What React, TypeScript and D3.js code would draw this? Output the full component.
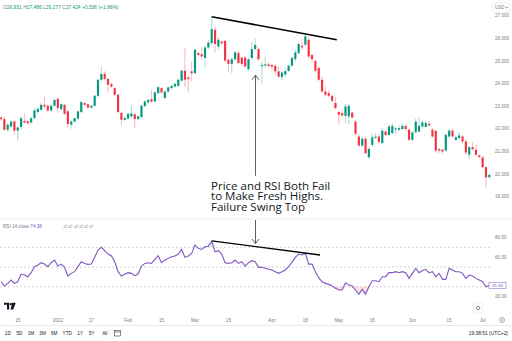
import React from "react";
import * as d3 from "d3";

const opens = [
  22.50,22.43,21.96,22.10,22.32,21.92,22.08,22.35,22.33,22.28,
  22.47,22.74,22.84,23.06,23.02,22.81,23.02,23.33,22.87,23.06,
  22.77,22.18,22.32,22.45,22.74,23.14,23.09,22.94,23.02,23.46,
  24.17,24.43,24.21,23.98,23.80,23.51,22.70,22.40,22.45,22.55,
  22.64,22.43,22.52,23.00,23.17,23.31,23.21,23.58,23.80,23.36,
  23.65,23.80,23.87,23.90,24.13,24.57,24.27,24.54,24.46,25.35,
  25.30,25.13,25.60,25.79,26.38,25.64,25.86,25.89,25.05,24.87,
  25.08,25.35,25.15,25.15,24.64,25.13,25.53,25.53,24.77,24.80,
  24.85,24.82,24.79,24.54,24.29,24.40,24.56,24.79,25.08,25.35,
  25.67,25.72,25.94,25.27,25.00,24.69,24.17,23.65,23.58,23.46,
  23.14,22.74,22.69,22.57,22.55,22.72,22.32,21.66,21.26,21.56,
  20.74,21.29,21.60,21.66,21.37,21.88,21.73,21.81,21.97,21.96,
  21.99,22.13,21.96,21.51,21.85,21.88,22.10,22.08,22.22,21.96,
  21.91,21.10,21.08,21.04,21.66,21.92,21.51,21.59,21.66,21.44,
  20.86,21.19,21.07,20.82,20.73,20.30,19.86,
];
const highs = [
  22.57,22.53,22.27,22.40,22.38,22.10,22.58,22.69,22.40,22.55,
  22.93,22.95,23.15,23.43,23.08,23.10,23.35,23.40,23.12,23.10,
  22.83,22.38,22.50,22.80,23.22,23.18,23.14,23.05,23.50,24.20,
  24.74,24.55,24.25,24.05,23.85,23.55,22.75,22.55,22.70,22.99,
  22.70,22.60,23.08,23.26,23.34,23.73,23.65,23.90,23.85,23.70,
  23.88,23.95,24.03,24.22,24.62,25.60,24.35,24.98,25.55,25.40,
  25.60,25.65,25.95,26.96,26.48,26.05,25.90,25.95,25.10,25.15,
  25.45,25.45,25.20,25.25,25.15,25.85,26.01,25.60,24.95,25.20,
  24.95,24.90,24.85,24.75,24.55,24.70,24.85,25.20,25.50,25.85,
  26.00,26.25,26.05,25.30,25.05,24.75,24.30,23.87,23.70,23.50,
  23.42,22.80,22.80,23.10,23.10,22.75,22.40,21.82,21.70,21.65,
  21.20,21.82,21.80,21.75,22.05,21.95,22.20,22.25,22.10,22.15,
  22.25,22.20,22.00,21.90,22.45,22.53,22.40,22.35,22.35,22.05,
  21.98,21.15,21.12,21.80,22.00,22.00,21.70,21.85,21.72,21.55,
  21.25,21.40,21.30,20.85,20.80,20.35,20.00,
];
const lows = [
  22.35,21.91,21.87,22.04,21.73,21.47,21.98,22.22,22.18,22.22,
  22.42,22.68,22.80,22.90,22.70,22.75,22.98,22.69,22.80,22.60,
  22.05,22.00,22.28,22.40,22.70,23.00,22.90,22.90,22.98,23.40,
  24.10,24.15,23.60,23.80,23.45,22.70,22.18,22.35,22.40,22.45,
  22.03,22.38,22.48,22.95,23.10,23.15,23.17,23.50,23.55,23.30,
  23.60,23.75,23.83,23.85,24.08,23.85,23.60,24.08,24.40,25.20,
  25.05,24.70,25.50,25.70,25.38,25.50,25.70,24.95,24.52,24.45,
  25.00,24.85,24.75,24.70,24.55,25.05,25.45,25.00,24.00,24.70,
  24.72,24.55,24.40,24.25,24.15,24.30,24.50,24.75,25.00,25.30,
  25.50,25.65,25.10,24.95,24.50,24.10,23.60,23.45,23.40,23.15,
  22.85,22.20,22.50,22.26,22.20,22.45,21.70,21.20,21.20,20.88,
  20.67,21.20,21.55,21.35,21.30,21.70,21.68,21.75,21.70,21.90,
  21.95,21.90,21.45,21.45,21.80,21.85,22.00,22.05,22.10,21.60,
  20.95,20.93,20.90,20.98,21.60,21.60,21.45,21.50,21.35,20.85,
  20.67,21.05,20.80,20.70,20.25,19.39,19.80,
];
const closes = [
  22.43,21.96,22.18,22.32,21.92,22.06,22.47,22.28,22.25,22.47,
  22.81,22.88,23.06,22.99,22.81,23.02,23.28,22.92,23.09,22.66,
  22.21,22.32,22.47,22.77,23.18,23.06,22.94,23.02,23.46,24.17,
  24.43,24.21,23.95,23.87,23.51,22.74,22.40,22.48,22.66,22.68,
  22.43,22.55,23.02,23.21,23.28,23.21,23.61,23.84,23.61,23.65,
  23.83,23.90,23.99,24.17,24.57,24.17,24.20,24.46,25.50,25.27,
  25.20,25.60,25.82,26.41,25.75,25.94,25.79,25.02,24.87,25.08,
  25.38,24.91,24.87,24.76,25.08,25.53,25.71,25.08,24.82,24.85,
  24.78,24.75,24.54,24.31,24.49,24.55,24.79,25.13,25.38,25.75,
  25.60,26.09,25.20,25.08,24.57,24.17,23.65,23.51,23.46,23.24,
  22.92,22.62,22.59,22.99,23.02,22.50,21.78,21.26,21.56,20.92,
  21.11,21.62,21.65,21.42,21.92,21.73,22.10,22.13,22.02,22.03,
  22.13,21.99,21.51,21.84,22.32,22.13,22.28,22.26,22.15,21.66,
  21.04,21.04,21.00,21.73,21.92,21.66,21.63,21.71,21.44,20.95,
  21.19,21.10,20.85,20.75,20.30,19.85,19.96,
];
const rsiValues = [
  35.1,30.7,33.4,36.8,33.4,35.0,42.9,41.9,40.2,44.3,
  50.4,52.0,54.4,53.0,50.4,54.4,57.1,51.0,53.0,49.7,
  40.9,43.6,45.3,50.4,55.4,53.7,52.7,53.0,59.8,67.2,
  70.0,66.6,63.2,61.2,55.4,45.3,40.9,42.6,44.3,43.6,
  41.2,42.9,51.0,53.7,54.4,53.7,57.8,61.5,54.4,57.1,
  58.8,60.5,61.2,63.2,67.9,59.8,61.2,63.9,72.4,69.0,
  67.9,70.6,71.2,76.0,65.5,66.6,63.2,54.4,53.7,54.4,
  57.1,53.7,55.4,51.0,54.4,56.5,55.4,49.7,49.7,48.7,
  47.7,47.0,45.3,43.6,45.3,47.0,50.4,54.7,59.8,63.2,
  62.2,63.9,53.0,53.0,45.3,39.2,35.1,33.4,32.4,30.7,
  28.4,26.7,26.7,34.1,31.7,30.7,26.7,22.3,27.4,22.6,
  30.0,36.1,36.1,35.1,40.2,40.2,44.3,44.3,45.3,44.3,
  45.3,44.3,38.5,43.6,48.7,44.3,46.4,47.7,44.3,45.3,
  40.2,43.6,37.5,37.5,48.7,47.0,45.3,45.3,43.6,38.5,
  41.9,40.9,38.5,36.8,35.1,30.0,31.46,
];

const xTickIndex = [5, 17, 27, 38, 48, 58, 68, 81, 91, 101, 111, 123, 134, 144];
const xTickLabels = ["15", "2022", "17", "Feb", "15", "Mar", "15", "Apr", "18", "May", "16", "Jun", "15", "Jul"];
const priceTicks = [19, 20, 21, 22, 23, 24, 25, 26, 27];
const rsiTicks = [80, 60, 20];
const rsiBands = [70, 50, 30];
const rsiLast = 31.46;
const headerParts = [
  ["O", "26.931"],
  ["H", "27.486"],
  ["L", "26.277"],
  ["C", "27.424"],
  ["", "+0.536 (+1.96%)"],
];
const rangeButtons = ["1D", "5D", "1M", "3M", "6M", "YTD", "1Y", "5Y", "All"];
const noteLines = ["Price and RSI Both Fail", "to Make Fresh Highs.", "Failure Swing Top"];
// trendline anchors in data units: [index, value]
const priceTrend = [[63, 26.96], [100.4, 25.94]];
const rsiTrend = [[63, 76.6], [95.4, 62.2]];
const arrowIndex = 76.1;

const W = 512;
const H = 341;
const UP = "#089981";
const DOWN = "#F23645";
const GREY = "#787b86";
const FONT = "'Liberation Sans', Arial, sans-serif";

export default function App() {
  const n = closes.length;
  const x = d3.scaleLinear().domain([0, n - 1]).range([1, 489.3]);
  const yP = d3.scaleLinear().domain([19, 27]).range([196.6, 15.8]);
  const yR = d3.scaleLinear().domain([20, 80]).range([296.6, 237.5]);
  const fmtP = d3.format(".3f");
  const fmtR = d3.format(".2f");

  const idx = d3.range(n);
  const rsiLine = d3.line<number>().x((_, i) => x(i)).y((d) => yR(d)).curve(d3.curveLinear);
  const lowFill = d3.area<number>().x((_, i) => x(i)).y0(yR(30)).y1((d) => yR(Math.min(d, 30)));
  const highFill = d3.area<number>().x((_, i) => x(i)).y0(yR(70)).y1((d) => yR(Math.max(d, 70)));

  // toolbar layout
  let cursor = 5;
  const btnPos = rangeButtons.map((b) => {
    const w = b.length * 2.8;
    const c = cursor + w / 2;
    cursor += w + 6;
    return c;
  });

  const arrowX = x(arrowIndex);
  const upTip = yP(24.37);
  const upBase = yP(19.92);
  const downTop = 220;
  const downTip = 243.5;
  const noteX = x(62.8);
  const noteY = yP(19.3);

  return (
    <svg
      width={W}
      height={H}
      viewBox={`0 0 ${W} ${H}`}
      style={{ position: "fixed", left: 0, top: 0, background: "#fff" }}
      fontFamily={FONT}
    >
      <rect x={0} y={0} width={W} height={H} fill="#fff" />

      {/* header */}
      <text x={3} y={8.8} fontSize={4.9}>
        {headerParts.map(([k, v], i) => (
          <tspan key={i}>
            <tspan fill={GREY}>{k}</tspan>
            <tspan fill={UP}>{v}</tspan>
            {i < headerParts.length - 1 ? " " : ""}
          </tspan>
        ))}
      </text>

      {/* USD box */}
      <rect x={493} y={3} width={17} height={9} rx={2} fill="#fff" stroke="#e0e3eb" strokeWidth={0.6} />
      <text x={495} y={9.3} fontSize={4.5} fill={GREY}>USD</text>
      <path d="M505.5,7 L508,7 L506.75,8.6 Z" fill={GREY} />

      {/* candles */}
      <g>
        {idx.map((i) => {
          const up = closes[i] >= opens[i];
          const col = up ? UP : DOWN;
          const top = yP(Math.max(opens[i], closes[i]));
          const bot = yP(Math.min(opens[i], closes[i]));
          return (
            <g key={i}>
              <line x1={x(i)} x2={x(i)} y1={yP(highs[i])} y2={yP(lows[i])} stroke={col} strokeOpacity={0.4} strokeWidth={0.9} />
              <rect x={x(i) - 1.1} width={2.2} y={top} height={Math.max(0.8, bot - top)} fill={col} />
            </g>
          );
        })}
      </g>

      {/* price axis labels */}
      {priceTicks.map((t) => (
        <text key={t} x={495} y={yP(t)} dy="0.35em" fontSize={4.6} fill={GREY}>
          {fmtP(t)}
        </text>
      ))}

      {/* price trendline */}
      <line
        x1={x(priceTrend[0][0])}
        y1={yP(priceTrend[0][1])}
        x2={x(priceTrend[1][0])}
        y2={yP(priceTrend[1][1])}
        stroke="#000"
        strokeWidth={1.5}
      />

      {/* up arrow */}
      <line x1={arrowX} x2={arrowX} y1={upTip} y2={upBase} stroke="#333" strokeWidth={0.8} />
      <path d={`M${arrowX - 3.5},${upTip + 4.5} L${arrowX},${upTip} L${arrowX + 3.5},${upTip + 4.5}`} fill="none" stroke="#333" strokeWidth={0.8} />

      {/* annotation text */}
      <text x={noteX} y={noteY} fontSize={11.5} fill="#131722" fontFamily="'Open Sans', sans-serif">
        {noteLines.map((l, i) => (
          <tspan key={i} x={noteX} dy={i === 0 ? 0 : 10.6}>
            {l}
          </tspan>
        ))}
      </text>

      {/* down arrow */}
      <line x1={arrowX} x2={arrowX} y1={downTop} y2={downTip} stroke="#333" strokeWidth={0.8} />
      <path d={`M${arrowX - 3.5},${downTip - 4.5} L${arrowX},${downTip} L${arrowX + 3.5},${downTip - 4.5}`} fill="none" stroke="#333" strokeWidth={0.8} />

      {/* pane separator */}
      <line x1={0} x2={W} y1={219} y2={219} stroke="#e0e3eb" strokeWidth={0.7} />

      {/* RSI header */}
      <text x={3} y={227.5} fontSize={4.6} fill={GREY}>
        RSI 14 close <tspan fill="#7E57C2">74.38</tspan>
      </text>
      <text x={63} y={227.5} fontSize={4.6} fill={GREY} fontStyle="italic">
        ∅ ∅ ∅ ∅ ∅ ∅
      </text>

      {/* RSI bands */}
      {rsiBands.map((b) => (
        <line key={b} x1={0} x2={490} y1={yR(b)} y2={yR(b)} stroke="#b2b5be" strokeWidth={0.6} strokeDasharray="2,2" />
      ))}

      <path d={lowFill(rsiValues) || ""} fill="rgba(242,54,69,0.15)" />
      <path d={highFill(rsiValues) || ""} fill="rgba(8,153,129,0.12)" />
      <path d={rsiLine(rsiValues) || ""} fill="none" stroke="#7E57C2" strokeWidth={1.1} />

      {/* RSI trendline */}
      <line
        x1={x(rsiTrend[0][0])}
        y1={yR(rsiTrend[0][1])}
        x2={x(rsiTrend[1][0])}
        y2={yR(rsiTrend[1][1])}
        stroke="#000"
        strokeWidth={1.4}
      />

      {/* RSI axis */}
      {rsiTicks.map((t) => (
        <text key={t} x={495} y={yR(t)} dy="0.35em" fontSize={4.6} fill={GREY}>
          {fmtR(t)}
        </text>
      ))}
      <rect x={489} y={yR(rsiLast) - 3} width={17} height={6} fill="#fff" stroke="#7E57C2" strokeWidth={0.5} />
      <text x={497.5} y={yR(rsiLast)} dy="0.35em" textAnchor="middle" fontSize={4.4} fill="#7E57C2">
        {fmtR(rsiLast)}
      </text>

      {/* small icon box in RSI pane */}
      <rect x={473} y={303} width={10} height={10} rx={2} fill="#fff" stroke="#e0e3eb" strokeWidth={0.6} />
      <path d="M478,305.8 L480.2,308 L478,310.2 L475.8,308 Z" fill="none" stroke="#131722" strokeWidth={0.6} />

      {/* TradingView logo */}
      <g fill="#131722">
        <path d="M4,302.8 H9.2 V309.4 H7 V304.8 H4 Z" />
        <circle cx={10.8} cy={304.1} r={1.2} />
        <path d="M12.2,302.8 H15.8 L13.2,309.4 H10.6 Z" />
      </g>

      {/* time axis */}
      {xTickIndex.map((ti, k) => (
        <text key={k} x={x(ti)} y={321.6} textAnchor="middle" fontSize={4.6} fill={GREY}>
          {xTickLabels[k]}
        </text>
      ))}
      <circle cx={502} cy={320} r={2.6} fill="none" stroke={GREY} strokeWidth={0.6} />
      <circle cx={502} cy={320} r={0.9} fill="none" stroke={GREY} strokeWidth={0.5} />

      {/* toolbar */}
      <line x1={0} x2={W} y1={325.5} y2={325.5} stroke="#e0e3eb" strokeWidth={0.7} />
      {rangeButtons.map((b, i) => (
        <text key={b} x={btnPos[i]} y={335} textAnchor="middle" fontSize={4.7} fill="#131722">
          {b}
        </text>
      ))}
      <line x1={110} x2={110} y1={329} y2={337} stroke="#e0e3eb" strokeWidth={0.6} />
      <rect x={114.5} y={330.5} width={6} height={5.5} fill="none" stroke="#131722" strokeWidth={0.5} />
      <line x1={114.5} x2={120.5} y1={332} y2={332} stroke="#131722" strokeWidth={0.5} />
      <text x={508} y={335} textAnchor="end" fontSize={4.9} fill="#131722">
        19:38:51 (UTC+2)
      </text>
    </svg>
  );
}
